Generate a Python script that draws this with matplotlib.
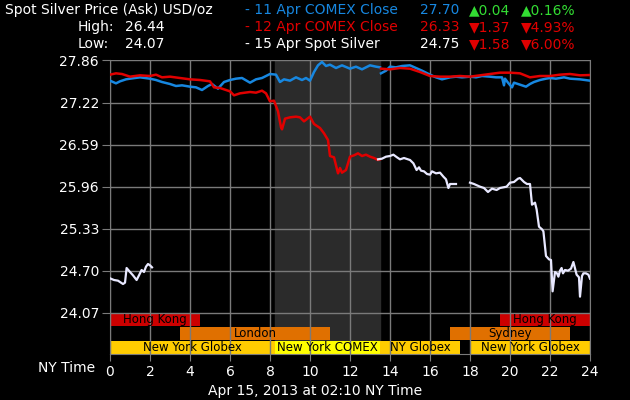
import numpy as np
import matplotlib
matplotlib.use("Agg")
import matplotlib.pyplot as plt

nan = np.nan

# 11 Apr COMEX close (blue)
hours_11 = [0, 0.3, 0.5, 0.8, 1, 1.5, 2, 2.3, 2.6, 3, 3.3, 3.6, 4, 4.3, 4.6, 4.9, 5.1, 5.4, 5.7, 6,
            6.3, 6.6, 7, 7.3, 7.6, 8, 8.3, 8.5, 8.7, 9, 9.3, 9.6, 9.8, 10, 10.2, 10.4, 10.6, 10.8, 11,
            11.3, 11.6, 12, 12.3, 12.6, 13, 13.3, 13.5, 13.52, 13.55, 13.8, 14, 14.3, 14.6, 15, 15.3,
            15.6, 16, 16.3, 16.6, 17, 17.3, 17.6, 18, 18.3, 18.6, 19, 19.3, 19.6, 19.7, 19.75, 19.9,
            20.1, 20.2, 20.4, 20.6, 20.8, 21, 21.2, 21.5, 21.8, 22, 22.3, 22.7, 23, 23.5, 24]
price_11 = [27.55, 27.51, 27.54, 27.57, 27.58, 27.60, 27.58, 27.56, 27.53, 27.50, 27.47, 27.48, 27.46,
            27.45, 27.41, 27.47, 27.50, 27.43, 27.53, 27.56, 27.58, 27.59, 27.52, 27.57, 27.59, 27.65,
            27.64, 27.53, 27.57, 27.55, 27.60, 27.56, 27.59, 27.55, 27.68, 27.78, 27.83, 27.77, 27.79,
            27.74, 27.78, 27.73, 27.76, 27.72, 27.78, 27.76, 27.75, nan, 27.66, 27.70, 27.76, 27.75,
            27.77, 27.78, 27.74, 27.70, 27.64, 27.60, 27.57, 27.60, 27.61, 27.60, 27.61, 27.60, 27.62,
            27.61, 27.60, 27.60, 27.48, 27.58, 27.52, 27.45, 27.52, 27.50, 27.48, 27.46, 27.50, 27.53,
            27.56, 27.58, 27.59, 27.58, 27.60, 27.58, 27.57, 27.55]

# 12 Apr COMEX close (red)
hours_12 = [0, 0.3, 0.6, 1, 1.5, 2, 2.3, 2.6, 3, 3.5, 4, 4.5, 5, 5.2, 5.5, 6, 6.2, 6.5, 7, 7.3, 7.6,
            7.8, 8, 8.2, 8.4, 8.55, 8.6, 8.75, 9, 9.3, 9.5, 9.7, 10, 10.2, 10.5, 10.7, 10.9, 11, 11.2,
            11.4, 11.5, 11.6, 11.8, 12, 12.2, 12.4, 12.6, 12.8, 13, 13.2, 13.4, 13.5, 13.52, 13.55,
            14, 14.5, 15, 15.5, 16, 16.5, 17, 17.5, 18, 18.5, 19, 19.5, 20, 20.5, 21, 21.5, 22, 22.5,
            23, 23.5, 24]
price_12 = [27.64, 27.66, 27.65, 27.61, 27.63, 27.62, 27.64, 27.60, 27.61, 27.59, 27.57, 27.56, 27.54,
            27.45, 27.44, 27.39, 27.33, 27.36, 27.38, 27.37, 27.40, 27.36, 27.24, 27.25, 27.09, 26.85,
            26.82, 26.98, 27.00, 27.01, 27.00, 26.94, 27.01, 26.90, 26.84, 26.76, 26.66, 26.42, 26.40,
            26.16, 26.24, 26.17, 26.21, 26.41, 26.43, 26.46, 26.42, 26.44, 26.41, 26.39, 26.36, 26.37,
            nan, 27.73, 27.72, 27.74, 27.73, 27.68, 27.62, 27.61, 27.61, 27.62, 27.61, 27.63, 27.65,
            27.67, 27.67, 27.66, 27.60, 27.62, 27.62, 27.64, 27.65, 27.63, 27.635]

# 15 Apr spot silver (white)
hours_15 = [0, 0.2, 0.4, 0.5, 0.65, 0.75, 0.83, 1.0, 1.15, 1.33, 1.45, 1.58, 1.7, 1.8, 1.9, 2.0, 2.1,
            2.2,
            13.4, 13.6, 13.8, 14.0, 14.17, 14.35, 14.5, 14.7, 15.0, 15.17, 15.33, 15.45, 15.55, 15.7,
            15.85, 16.0, 16.1, 16.3, 16.5, 16.67, 16.8, 16.92, 17.0, 17.3,
            17.5,
            18.0, 18.2, 18.5, 18.7, 18.9, 19.1, 19.33, 19.5, 19.83, 20.0, 20.2, 20.4, 20.5, 20.7,
            20.85, 21.0, 21.1, 21.25, 21.33, 21.45, 21.6, 21.67, 21.8, 21.95, 22.05, 22.13, 22.25,
            22.35, 22.42, 22.5, 22.58, 22.65, 22.75, 22.9, 23.05, 23.17, 23.33, 23.45, 23.5, 23.6,
            23.67, 23.8, 23.92, 24.0]
price_15 = [24.585, 24.56, 24.55, 24.53, 24.50, 24.52, 24.74, 24.68, 24.63, 24.56, 24.63, 24.71, 24.68,
            24.76, 24.80, 24.78, 24.75,
            nan,
            26.37, 26.38, 26.41, 26.42, 26.44, 26.40, 26.37, 26.39, 26.36, 26.31, 26.21, 26.25, 26.20,
            26.19, 26.15, 26.14, 26.19, 26.16, 26.17, 26.11, 26.07, 25.94, 26.00, 26.00,
            nan,
            26.02, 26.00, 25.96, 25.94, 25.88, 25.93, 25.91, 25.94, 25.96, 26.02, 26.03, 26.08, 26.09,
            26.03, 26.00, 26.00, 25.69, 25.72, 25.62, 25.36, 25.32, 25.29, 24.92, 24.87, 24.86, 24.39,
            24.68, 24.66, 24.61, 24.70, 24.74, 24.66, 24.71, 24.70, 24.73, 24.83, 24.64, 24.60, 24.31,
            24.62, 24.66, 24.66, 24.64, 24.58]

# trading sessions: (row, start, end, label)
sess_row = [0, 0, 1, 1, 1, 2, 2, 2, 2]
sess_start = [0, 19.5, 3.5, 17, 0, 0, 8.25, 13.5, 18]
sess_end = [4.5, 24, 11, 23, 0, 8.25, 13.5, 17.5, 24]
sess_label = ["Hong Kong", "Hong Kong", "London", "Sydney", "", "New York Globex", "New York COMEX",
              "NY Globex", "New York Globex"]
sess_color = ["#cc0000", "#cc0000", "#e07000", "#e07000", "#e07000", "#ffcc00", "#ffff00", "#ffcc00",
              "#ffcc00"]

comex_start, comex_end = 8.25, 13.5
yticks = [24.07, 24.70, 25.33, 25.96, 26.59, 27.22, 27.86]

fig = plt.figure(figsize=(6.3, 4.0), dpi=100, facecolor="black")
ax = fig.add_axes([110 / 630, 1 - 354 / 400, 480 / 630, 294 / 400], facecolor="black")

ymax = 27.86
ymin = 27.86 - 294 * 0.015
row_h = 14 * 0.015

ax.axvspan(comex_start, comex_end, color="#2b2b2b", zorder=0)

for r, s, e, lab, c in zip(sess_row, sess_start, sess_end, sess_label, sess_color):
    if e <= s:
        continue
    top = 24.07 - r * row_h
    ax.fill_between([s, e], top - row_h + 0.012, top - 0.003, color=c, lw=0, zorder=2)
    ax.text((s + e) / 2, top - row_h / 2, lab, ha="center", va="center", fontsize=8.5,
            color="black", zorder=4)

ax.plot(hours_11, price_11, color="#1787e0", lw=1.8, zorder=5)
ax.plot(hours_12, price_12, color="#e00000", lw=1.8, zorder=5)
ax.plot(hours_15, price_15, color="#e8e8ff", lw=1.6, zorder=6)

ax.set_xlim(0, 24)
ax.set_ylim(ymin, ymax)
ax.set_xticks(range(0, 25, 2))
ax.set_yticks(yticks)
ax.set_yticklabels(["%.2f" % v for v in yticks])
ax.grid(True, color="#7a7a7a", lw=1, zorder=3)
ax.set_axisbelow(False)
ax.tick_params(colors="#7a7a7a", labelcolor="white", labelsize=10)
ax.tick_params(axis="y", length=6, pad=2)
ax.tick_params(axis="x", length=5, pad=3)
for sp in ax.spines.values():
    sp.set_color("#7a7a7a")
ax.spines["top"].set_visible(False)

fig.text(95 / 630, 1 - 368 / 400, "NY Time", color="white", fontsize=10, ha="right", va="center")
fig.text(315 / 630, 1 - 391 / 400, "Apr 15, 2013 at 02:10 NY Time", color="white", fontsize=10,
         ha="center", va="center")

# header
def htext(x, y, s, c="white"):
    fig.text(x / 630, 1 - y / 400, s, color=c, fontsize=10, ha="left", va="center")

htext(5, 10, "Spot Silver Price (Ask) USD/oz")
htext(78, 27, "High:")
htext(125, 27, "26.44")
htext(78, 44, "Low:")
htext(125, 44, "24.07")

blue, red, green = "#1787e0", "#e00000", "#33dd33"
htext(245, 10, "- 11 Apr COMEX Close", blue)
htext(420, 10, "27.70", blue)
htext(469, 10, "\u25b20.04", green)
htext(521, 10, "\u25b20.16%", green)
htext(245, 27, "- 12 Apr COMEX Close", red)
htext(420, 27, "26.33", red)
htext(469, 27, "\u25bc1.37", red)
htext(521, 27, "\u25bc4.93%", red)
htext(245, 44, "- 15 Apr Spot Silver")
htext(420, 44, "24.75")
htext(469, 44, "\u25bc1.58", red)
htext(521, 44, "\u25bc6.00%", red)

fig.savefig("out.png", dpi=100, facecolor="black")
